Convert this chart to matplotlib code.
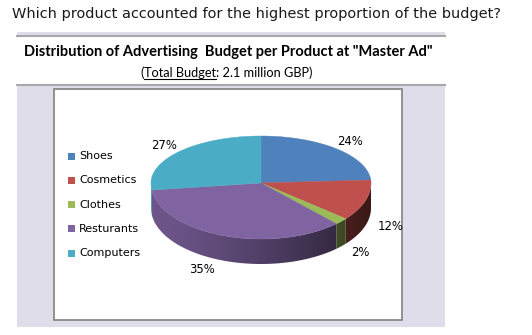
import numpy as np
import matplotlib.pyplot as plt
from matplotlib.patches import Rectangle, Polygon
from matplotlib.colors import to_rgb

# data
products = ['Shoes', 'Cosmetics', 'Clothes', 'Resturants', 'Computers']
shares = [24, 12, 2, 35, 27]
colors = ['#4F81BD', '#C0504D', '#9BBB59', '#8064A2', '#4BACC6']

question = 'Which product accounted for the highest proportion of the budget?'
title = 'Distribution of Advertising  Budget per Product at "Master Ad"'

W, H = 532, 335
fig = plt.figure(figsize=(W / 100, H / 100), dpi=100)
ax = fig.add_axes([0, 0, 1, 1])
ax.set_xlim(0, W)
ax.set_ylim(H, 0)
ax.axis('off')
renderer = fig.canvas.get_renderer()


def fit_text(x, y, s, width, **kw):
    # shrink/grow font so the string spans the given pixel width
    t = ax.text(x, y, s, **kw)
    w = t.get_window_extent(renderer).width
    t.set_fontsize(t.get_fontsize() * width / w)
    return t


# question on top
fit_text(12, 14, question, 485, fontsize=12, va='center', ha='left',
         family='DejaVu Sans', color='#1a1a1a')

# panel background
lav = '#E0DDEB'
ax.add_patch(Rectangle((17, 32), 428, 295, fc=lav, ec='none'))
ax.add_patch(Rectangle((17, 36), 428, 48, fc='white', ec='none'))
ax.plot([17, 445], [36, 36], color='#A8A8A8', lw=1.5)
ax.plot([17, 445], [84.5, 84.5], color='#A8A8A8', lw=1.5)
ax.add_patch(Rectangle((54, 89), 348, 231, fc='white', ec='#808080', lw=1.2))

# chart title and subtitle
fit_text(228, 52, title, 410, fontsize=10, fontweight='bold', ha='center',
         va='center', family='Lato', color='black')
sub_parts = ['(', 'Total Budget', ': 2.1 million GBP)']
sub_size = 9.2
widths = []
for p in sub_parts:
    t = ax.text(0, 0, p, fontsize=sub_size, family='Lato')
    widths.append(t.get_window_extent(renderer).width)
    t.remove()
x0 = 226 - sum(widths) / 2
for p, w in zip(sub_parts, widths):
    ax.text(x0, 73, p, fontsize=sub_size, family='Lato', va='center', ha='left')
    if p == 'Total Budget':
        ax.plot([x0, x0 + w], [79, 79], color='black', lw=0.8)
    x0 += w

# 3d pie geometry (pixels)
cx, cy = 261, 183
rx, ry_back, ry_front = 110, 47, 56
depth = 25


def pt(theta):
    th = np.radians(theta)
    s = np.sin(th)
    ry = np.where(s >= 0, ry_back, ry_front)
    return cx + rx * np.cos(th), cy - ry * s


bounds = 90 - 360 * np.concatenate([[0], np.cumsum(shares)]) / 100.0

# horizontal shading of the side wall
gx = np.linspace(cx - rx, cx + rx, 300)
tt = (gx - (cx - rx)) / (2 * rx)
shade = 0.86 - 0.56 * tt ** 1.3
ext = [cx - rx, cx + rx, cy + ry_front + depth + 2, cy - 2]

# sides (front half only)
for i, c in enumerate(colors):
    a1, a2 = bounds[i], bounds[i + 1]
    base = np.array(to_rgb(c))
    for k in range(-1, 2):
        lo = max(a2 - 360 * k, -180)
        hi = min(a1 - 360 * k, 0)
        if hi <= lo:
            continue
        th = np.linspace(hi, lo, 80)
        xs, ys = pt(th)
        verts = list(zip(xs, ys)) + list(zip(xs[::-1], ys[::-1] + depth))
        poly = Polygon(verts, closed=True, fc='none', ec='none')
        ax.add_patch(poly)
        img = np.tile((shade[:, None] * base[None, :])[None, :, :], (2, 1, 1))
        im = ax.imshow(img, extent=ext, origin='lower', aspect='auto',
                       interpolation='bilinear', zorder=1)
        im.set_clip_path(poly)

# top faces
for i, c in enumerate(colors):
    th = np.linspace(bounds[i], bounds[i + 1], 120)
    xs, ys = pt(th)
    verts = [(cx, cy)] + list(zip(xs, ys))
    ax.add_patch(Polygon(verts, closed=True, fc=c, ec=c, lw=0.3, zorder=2))

# percentage labels
for i, v in enumerate(shares):
    mid = (bounds[i] + bounds[i + 1]) / 2
    th = np.radians(mid)
    if np.sin(th) >= 0:
        lx = cx + rx * 1.18 * np.cos(th)
        ly = cy - ry_back * 1.2 * np.sin(th)
    else:
        lx = cx + rx * 1.24 * np.cos(th) * (1.0 + 0.27 * (np.cos(th) < 0))
        ly = cy - ry_front * 1.2 * np.sin(th) + depth - 2
    ax.text(lx, ly, f'{v}%', fontsize=8.4, ha='center', va='center',
            family='DejaVu Sans', color='black', zorder=3)

# legend
for i, (name, c) in enumerate(zip(products, colors)):
    y = 156 + 24.3 * i
    ax.add_patch(Rectangle((68, y - 3.5), 7, 7, fc=c, ec='none'))
    ax.text(79, y, name, fontsize=8, va='center', ha='left',
            family='DejaVu Sans', color='black')

fig.savefig('out.png', dpi=100)
